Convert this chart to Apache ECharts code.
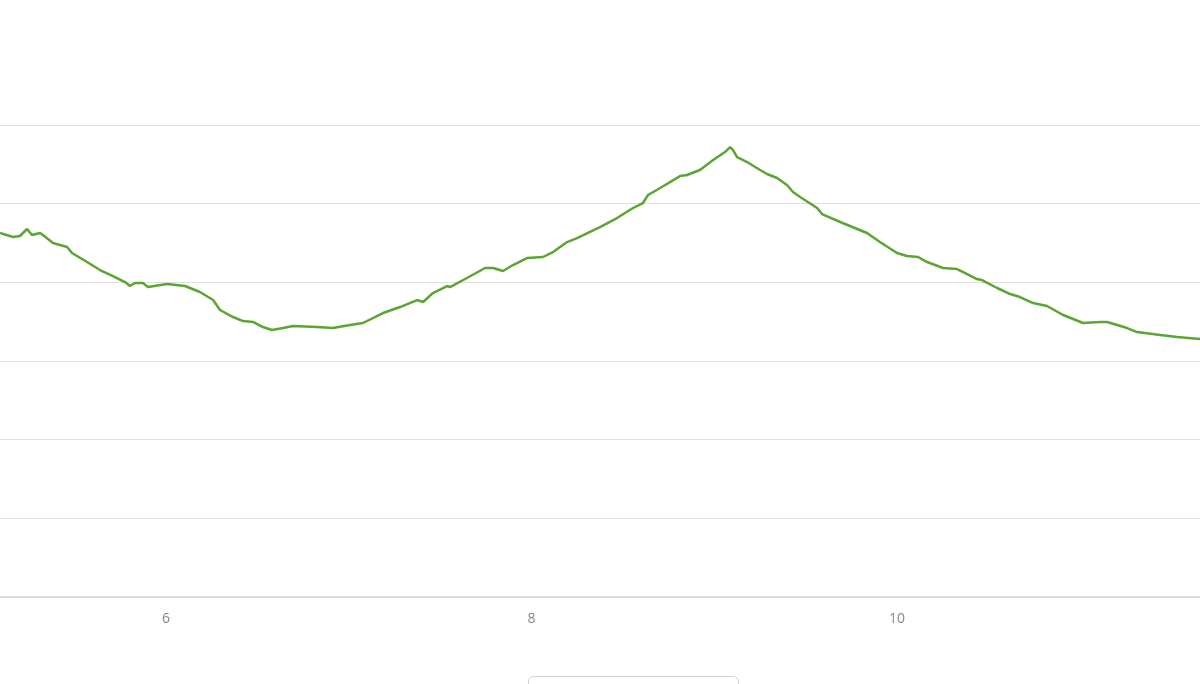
<!DOCTYPE html>
<html>
<head>
<meta charset="utf-8">
<script src="https://cdn.jsdelivr.net/npm/echarts@6/dist/echarts.min.js"></script>
<style>
  html, body { margin: 0; padding: 0; background: #fff; }
  #chart { width: 1200px; height: 684px; }
</style>
</head>
<body>
<div id="chart"></div>
<script>
  // distance along the route and the profile value
  const distance = [5.092, 5.163, 5.201, 5.240, 5.267, 5.311, 5.327, 5.382, 5.459, 5.486,
    5.568, 5.639, 5.710, 5.776, 5.803, 5.831, 5.874, 5.902, 6.006, 6.104,
    6.186, 6.258, 6.296, 6.367, 6.422, 6.476, 6.531, 6.580, 6.641, 6.695,
    6.827, 6.914, 7.007, 7.078, 7.188, 7.281, 7.374, 7.407, 7.461, 7.538,
    7.554, 7.647, 7.746, 7.790, 7.844, 7.899, 7.976, 8.063, 8.118, 8.195,
    8.249, 8.375, 8.468, 8.556, 8.610, 8.638, 8.704, 8.813, 8.851, 8.922,
    8.994, 9.059, 9.087, 9.103, 9.125, 9.180, 9.251, 9.289, 9.344, 9.398,
    9.431, 9.470, 9.563, 9.590, 9.689, 9.836, 9.907, 10.000, 10.055, 10.115,
    10.165, 10.252, 10.329, 10.438, 10.465, 10.548, 10.619, 10.673, 10.745, 10.821,
    10.909, 11.018, 11.111, 11.150, 11.259, 11.314, 11.440, 11.533, 11.658];
  const profile = [462.7, 457.6, 458.9, 467.8, 460.1, 462.7, 460.1, 450.0, 444.9, 437.3,
    425.8, 415.6, 408.0, 400.4, 395.3, 399.1, 399.1, 394.0, 397.9, 395.3,
    387.7, 377.5, 364.8, 355.9, 350.8, 349.6, 343.2, 339.4, 341.9, 344.5,
    343.2, 341.9, 345.7, 348.3, 361.0, 368.6, 377.5, 375.0, 386.4, 395.3,
    394.0, 405.5, 418.2, 418.2, 414.4, 422.0, 430.9, 432.2, 438.5, 451.2,
    456.3, 470.3, 481.7, 494.5, 500.8, 511.0, 519.9, 535.1, 536.4, 542.8,
    555.5, 565.6, 572.0, 568.2, 559.3, 552.9, 542.8, 537.7, 532.6, 523.7,
    514.8, 508.4, 494.5, 486.8, 476.7, 462.7, 451.2, 437.3, 433.4, 432.2,
    425.8, 418.2, 416.9, 404.2, 402.9, 392.8, 385.1, 381.3, 373.7, 369.9,
    358.5, 348.3, 349.6, 349.6, 341.9, 336.8, 333.0, 330.5, 327.9];
  const xTicks = [6, 8, 10];

  const chart = echarts.init(document.getElementById('chart'));
  const option = {
    animation: false,
    grid: {
      left: 0,
      right: 0,
      top: 125,
      bottom: 87,
      outerBoundsMode: 'none'
    },
    xAxis: {
      type: 'value',
      min: 5.092,
      max: 11.658,
      axisLine: { lineStyle: { color: '#d6d6d6', width: 1.5 } },
      axisTick: { show: false },
      splitLine: { show: false },
      axisLabel: {
        customValues: xTicks,
        color: '#888', fontSize: 14, margin: 15, fontFamily: 'Open Sans'
      }
    },
    yAxis: {
      type: 'value',
      min: 0,
      max: 600,
      interval: 100,
      axisLine: { show: false },
      axisTick: { show: false },
      axisLabel: { show: false },
      splitLine: { lineStyle: { color: '#e0e0e0', width: 1.2 } }
    },
    series: [{
      type: 'line',
      data: distance.map((d, i) => [d, profile[i]]),
      showSymbol: false,
      lineStyle: { color: '#5ba532', width: 2.5 }
    }],
    graphic: [{
      type: 'rect',
      left: 528,
      top: 676,
      shape: { width: 210, height: 30, r: 5 },
      style: { fill: '#fff', stroke: '#cfcfcf', lineWidth: 1 }
    }]
  };
  chart.setOption(option);
</script>
</body>
</html>
